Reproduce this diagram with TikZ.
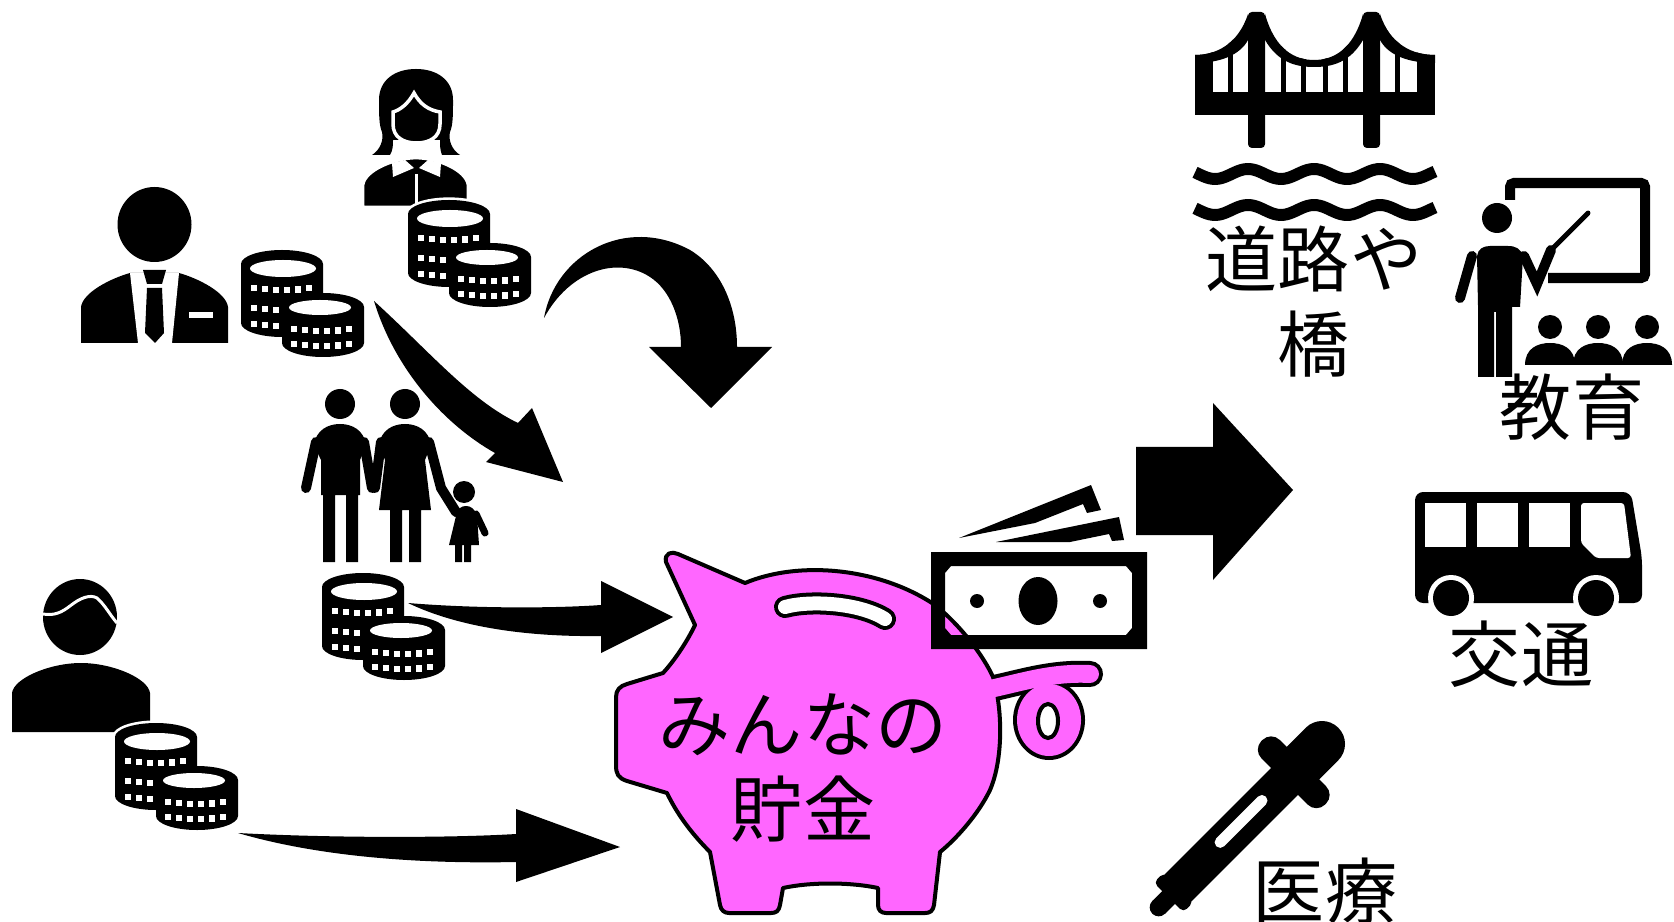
\documentclass[tikz,border=0pt]{standalone}
\usepackage{fontspec}
\newfontfamily\jp{Noto Sans CJK JP}
\definecolor{piggy}{RGB}{255,102,255}
\tikzstyle{coinhalo} = [fill=white,draw=white,line width=1.5pt]
\tikzstyle{pig} = [fill=piggy,draw=black,line width=1.14pt,line join=round]
\tikzstyle{limb} = [line width=2.85pt,line cap=round]
\tikzstyle{smalllimb} = [line width=2pt,line cap=round]
\tikzstyle{wave} = [line width=3.4pt]
\tikzstyle{jptext} = [font=\jp\fontsize{20.5pt}{24.2pt}\selectfont,align=center,inner sep=0pt]

\begin{document}
\begin{tikzpicture}[x=0.01cm,y=-0.01cm]
  \useasboundingbox (0,0) rectangle (1674,922);
  \fill[white] (0,0) rectangle (1674,922);

  % Businessman
  \fill (154.5,224.5) ellipse[x radius=37,y radius=37.5];
  \fill (81,343) -- (81,307) .. controls (83,292) and (112,278) .. (130,273) -- (179,273) .. controls (197,278) and (226,292) .. (228,307) -- (228,343) -- cycle;
  \fill[white] (130,273) -- (179,273) -- (172,343) -- (138,343) -- cycle;
  \fill (143,270) -- (166,270) -- (162,284) -- (147,284) -- cycle;
  \fill (147,288) -- (162,288) -- (164,333) -- (155,343) -- (145,333) -- cycle;
  \fill[white] (189,312) rectangle (213,318);

  % Woman
  \fill (372,155) .. controls (380,150) and (384,140) .. (382,132) .. controls (379,125) and (379,115) .. (379,100)
    .. controls (379,80) and (395,69) .. (416,69) .. controls (437,69) and (453,80) .. (453,100)
    .. controls (453,115) and (453,125) .. (450,132) .. controls (448,140) and (452,150) .. (460,155)
    -- (442,155) .. controls (440,150) and (440,145) .. (440,140) -- (393,140) .. controls (393,145) and (393,150) .. (390,155) -- cycle;
  \filldraw[draw=white,line width=1pt] (393,112) .. controls (400,110) and (408,104) .. (414,93) .. controls (420,104) and (428,110) .. (440,112)
    -- (440,124) .. controls (440,137) and (430,143) .. (416.5,143) .. controls (403,143) and (393,137) .. (393,124) -- cycle;
  \filldraw[draw=white,line width=0.8pt] (363,207) -- (363,185) .. controls (365,170) and (395,158) .. (416,158) .. controls (437,158) and (466,170) .. (468,185) -- (468,207) -- cycle;
  \fill[white] (392,163) -- (405,160) -- (414,168) -- (393,177) -- cycle;
  \fill[white] (441,163) -- (428,160) -- (419,168) -- (440,177) -- cycle;
  \draw[white,line width=0.85pt] (416.5,174) -- (416.5,207);

  % Family
  \fill (340,404) circle[radius=15];
  \fill (314,445) .. controls (316,430) and (328,424) .. (340,424) .. controls (352,424) and (364,430) .. (366,445) -- (360,460) -- (360,495) -- (358,495) -- (358,562) -- (346,562) -- (346,495) -- (335,495) -- (335,562) -- (323,562) -- (323,495) -- (321,495) -- (321,460) -- cycle;
  \draw[limb] (316,442) -- (306,488);
  \draw[limb] (364,442) -- (372,488);
  \fill (405,404) circle[radius=15];
  \fill (379,445) .. controls (381,430) and (393,424) .. (405,424) .. controls (417,424) and (429,430) .. (431,445) -- (425,460) -- (431,510) -- (421,510) -- (421,562) -- (409,562) -- (409,510) -- (402,510) -- (402,562) -- (390,562) -- (390,510) -- (379,510) -- (385,460) -- cycle;
  \draw[limb] (381,442) -- (375,488);
  \draw[limb] (429,442) -- (441,488) -- (456,512);
  \fill (464,492) circle[radius=11];
  \fill (456,516) .. controls (457,509) and (461,506) .. (466,506) .. controls (471,506) and (475,509) .. (477,516) -- (479,545) -- (471,545) -- (471,562) -- (464,562) -- (464,545) -- (462,545) -- (462,562) -- (455,562) -- (455,545) -- (449,545) -- cycle;
  \draw[smalllimb] (476,514) -- (485,533);

  % Young man
  \fill (80,617) ellipse[x radius=37,y radius=38];
  \draw[white,line width=0.85pt] (43,614) .. controls (55,616) and (62,612) .. (70,606) .. controls (80,598) and (90,594) .. (97,598) .. controls (105,605) and (110,615) .. (117,623);
  \fill (12,732) -- (12,693) .. controls (14,678) and (50,663) .. (81,663) .. controls (112,663) and (148,678) .. (150,693) -- (150,732) -- cycle;

  % Arrows into the piggy bank
  \fill (374,301) .. controls (430,352) and (470,400) .. (518,423) -- (532,408) -- (563,482) -- (486,462) -- (495,453) .. controls (445,425) and (395,370) .. (374,301) -- cycle;
  \fill (544,318) .. controls (555,255) and (625,215) .. (690,250) .. controls (720,268) and (737,305) .. (737,347) -- (772,347) -- (711,408) -- (649,347) -- (681,347) .. controls (681,318) and (670,290) .. (650,277) .. controls (618,256) and (570,270) .. (544,318) -- cycle;
  \fill (408,603) .. controls (480,609) and (560,608) .. (601,605) -- (601,581) -- (673,617) -- (601,653) -- (601,636) .. controls (530,637) and (460,628) .. (408,603) -- cycle;
  \fill (238,833) .. controls (330,838) and (450,838) .. (516,834) -- (516,809) -- (620,847) -- (516,882) -- (516,862) .. controls (420,864) and (320,857) .. (238,833) -- cycle;

  % Coin stacks
  \foreach \ox/\oy in {241/250, 408/200, 322/573, 115/723} {
    \begin{scope}[shift={(\ox,\oy)}]
      \path[coinhalo] (0,14) arc[start angle=180,end angle=360,x radius=41,y radius=14] -- (82,73) arc[start angle=0,end angle=180,x radius=41,y radius=14] -- cycle;
      \path[coinhalo] (41,57) arc[start angle=180,end angle=360,x radius=41,y radius=14] -- (123,93) arc[start angle=0,end angle=180,x radius=41,y radius=14] -- cycle;
      \fill (0,14) arc[start angle=180,end angle=360,x radius=41,y radius=14] -- (82,73) arc[start angle=0,end angle=180,x radius=41,y radius=14] -- cycle;
      \fill[white] (42,18.5) ellipse[x radius=33,y radius=8.5];
      \foreach \r in {37,57,73}
        \foreach \d in {-28,-17,-6,5,16,27}
          \fill[white] ({41+\d-2.75},{\r-0.25-3*(\d/33)*(\d/33)}) rectangle ++(5.5,6.5);
      \fill (41,57) arc[start angle=180,end angle=360,x radius=41,y radius=14] -- (123,93) arc[start angle=0,end angle=180,x radius=41,y radius=14] -- cycle;
      \fill[white] (79,57.5) ellipse[x radius=31,y radius=7.5];
      \foreach \r in {78,93}
        \foreach \d in {-28,-17,-6,5,16,27}
          \fill[white] ({81+\d-2.75},{\r-0.25-3*(\d/33)*(\d/33)}) rectangle ++(5.5,6.5);
    \end{scope}
  }

  % Piggy bank
  \draw[line width=7.4pt,line cap=round] (985,690) .. controls (1020,683) and (1050,672) .. (1090,674);
  \fill (1049,720) ellipse[x radius=36,y radius=40];
  \filldraw[pig] (666,562) .. controls (664,553) and (672,551) .. (678,554) -- (745,583)
    .. controls (800,560) and (880,568) .. (935,605) .. controls (960,625) and (983,655) .. (993,677)
    .. controls (1003,710) and (1003,760) .. (990,790) .. controls (978,815) and (955,840) .. (940,852)
    -- (934,905) .. controls (933,911) and (930,913) .. (925,913) -- (886,913) .. controls (881,913) and (878,910) .. (878,905)
    -- (878,888) .. controls (850,882) and (810,882) .. (783,888)
    -- (780,905) .. controls (779,911) and (776,913) .. (771,913) -- (729,913) .. controls (724,913) and (721,910) .. (720,905)
    -- (710,852) .. controls (690,832) and (676,812) .. (667,793)
    -- (627,781) .. controls (618,778) and (616,774) .. (616,765) -- (616,697) .. controls (616,690) and (620,686) .. (627,684)
    -- (663,673) .. controls (675,660) and (688,640) .. (695,625) -- cycle;
  \draw[piggy,line width=5.1pt,line cap=round] (985,690) .. controls (1020,683) and (1050,672) .. (1090,674);
  \fill[piggy] (1049,720) ellipse[x radius=32,y radius=36];
  \filldraw[fill=white,draw=black,line width=1.14pt] (1048,721) ellipse[x radius=10,y radius=17];
  \draw[line width=6.26pt,line cap=round] (785,607) .. controls (810,600) and (860,603) .. (885,619);
  \draw[white,line width=3.98pt,line cap=round] (785,607) .. controls (810,600) and (860,603) .. (885,619);
  \node[jptext] (savings) at (803,768) {みんなの\\貯金};

  % Banknotes
  \fill[even odd rule] (931,552) rectangle (1147,649) (945,573) -- (951,566) -- (1126,566) -- (1132,573) -- (1132,628) -- (1126,635) -- (951,635) -- (945,628) -- cycle;
  \fill (1038,601) ellipse[x radius=19.5,y radius=24];
  \fill (977,601) circle[radius=7];
  \fill (1100,601) circle[radius=7];
  \fill (959,538) -- (1091,485) -- (1101,510) -- (1087,513) -- (1083,504) -- (1035,523) -- cycle;
  \fill (996,542) -- (1119,517) -- (1124,540) -- (1112,541) -- (1109,534) -- (1070,542) -- cycle;

  % Arrow out to the uses
  \fill (1136,447) -- (1213,447) -- (1213,403) -- (1293,490) -- (1213,580) -- (1213,535) -- (1136,535) -- cycle;

  % Bridge
  \fill (1195,92) rectangle (1435,115);
  \fill[rounded corners=1.1pt] (1248,12) rectangle (1265,148);
  \fill[rounded corners=1.1pt] (1363,12) rectangle (1380,148);
  \fill (1265,14) .. controls (1275,50) and (1295,60) .. (1314,60) .. controls (1333,60) and (1353,50) .. (1363,14) -- (1363,40) .. controls (1350,62) and (1333,67) .. (1314,67) .. controls (1295,67) and (1278,62) .. (1265,40) -- cycle;
  \fill (1248,14) .. controls (1238,45) and (1215,55) .. (1195,55) -- (1195,63) .. controls (1220,63) and (1240,55) .. (1248,40) -- cycle;
  \fill (1380,14) .. controls (1390,45) and (1413,55) .. (1435,55) -- (1435,63) .. controls (1408,63) and (1388,55) .. (1380,40) -- cycle;
  \begin{scope}
    \clip (1265,14) .. controls (1275,50) and (1295,60) .. (1314,60) .. controls (1333,60) and (1353,50) .. (1363,14) -- (1363,92) -- (1265,92) -- cycle;
    \foreach \x in {1283,1303,1325,1345}
      \fill ({\x-2.5},0) rectangle ({\x+2.5},92);
  \end{scope}
  \begin{scope}
    \clip (1248,14) .. controls (1238,45) and (1215,55) .. (1195,55) -- (1195,92) -- (1248,92) -- cycle;
    \fill (1195,40) rectangle (1213,92);
    \fill (1228,30) rectangle (1233,92);
  \end{scope}
  \begin{scope}
    \clip (1380,14) .. controls (1390,45) and (1413,55) .. (1435,55) -- (1435,92) -- (1380,92) -- cycle;
    \fill (1417,40) rectangle (1435,92);
    \fill (1395,30) rectangle (1400,92);
  \end{scope}
  \draw[wave] plot[domain=1195:1435,samples=80] (\x,{174-5*cos((\x-1248)*5.4545)});
  \draw[wave] plot[domain=1195:1435,samples=80] (\x,{210-5*cos((\x-1248)*5.4545)});
  \node[jptext] (roads) at (1314,302) {道路や\\橋};

  % Teacher and class
  \draw[line width=2.85pt,rounded corners=1.1pt] (1510,200) -- (1510,183) -- (1645,183) -- (1645,278) -- (1548,278);
  \fill (1497,218) circle[radius=15];
  \fill (1477,256) .. controls (1478,249) and (1483,246) .. (1490,246) -- (1508,246) .. controls (1516,246) and (1521,249) .. (1523,256) -- (1520,307) -- (1512,307) -- (1512,377) -- (1496,377) -- (1496,312) -- (1494,312) -- (1494,377) -- (1478,377) -- (1478,307) -- cycle;
  \draw[limb] (1472,256) -- (1460,298);
  \draw[limb] (1524,256) -- (1537,284) -- (1551,250);
  \draw[line width=1.4pt,line cap=round] (1551,250) -- (1588,213);
  \foreach \x in {1550,1598,1647} {
    \fill (\x,327) circle[radius=12];
    \fill ({\x-25},365) .. controls ({\x-25},348) and ({\x-12},343) .. (\x,343) .. controls ({\x+12},343) and ({\x+25},348) .. ({\x+25},365) -- cycle;
  }
  \node[jptext] (education) at (1572,407) {教育};

  % Bus
  \fill[rounded corners=2.3pt] (1415,603) -- (1415,492) -- (1631,492) -- (1642,558) -- (1642,603) -- cycle;
  \foreach \x in {1425,1477,1529}
    \fill[white] (\x,503) rectangle ++(41,44);
  \fill[white,rounded corners=0.85pt] (1581,503) -- (1624,503) -- (1631,558) -- (1596,558) -- (1581,543) -- cycle;
  \foreach \x in {1451,1596} {
    \fill[white] (\x,598) circle[radius=23];
    \fill (\x,598) circle[radius=18];
  }
  \node[jptext] (traffic) at (1521,654) {交通};

  % Dropper
  \begin{scope}[shift={(1153,913)},rotate=45]
    \fill (8,0) circle[radius=9];
    \fill (8,-9) rectangle (30,9);
    \fill[rounded corners=1.4pt] (22,-21) rectangle (36,21);
    \fill (30,-19) rectangle (194,19);
    \fill[rounded corners=3.5pt] (186,-45) rectangle (212,45);
    \fill (205,-23) -- (239,-23) arc[start angle=-90,end angle=90,radius=23] -- (205,23) -- cycle;
    \fill[white,rounded corners=1.5pt] (92,-8) rectangle (162,3);
  \end{scope}
  \node[jptext] (medical) at (1325,891) {医療};
\end{tikzpicture}
\end{document}
